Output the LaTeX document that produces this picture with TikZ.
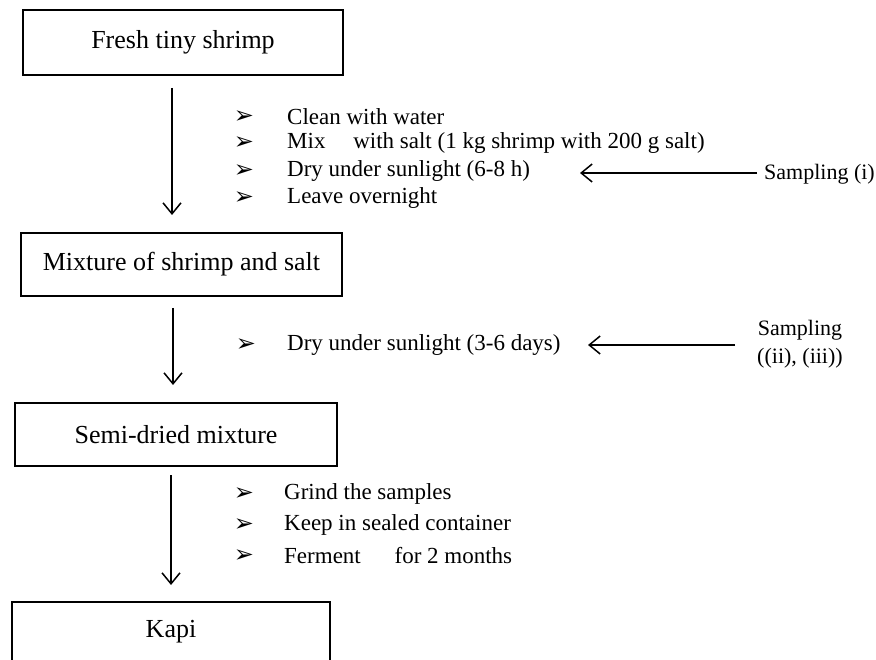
\documentclass[tikz,border=0pt]{standalone}
\usepackage{fontspec}
\setmainfont{Liberation Serif}
\newfontfamily\dingfont{DejaVu Sans}
\usetikzlibrary{arrows.meta}
\tikzset{
	stagebox/.style={draw,line width=1.5pt,inner sep=0pt,font=\fontsize{26}{30}\selectfont},
	itemtext/.style={anchor=west,inner sep=0pt,font=\fontsize{23}{27}\selectfont},
	bulletmark/.style={inner sep=0pt,font=\dingfont\fontsize{24}{26}\selectfont},
	flowarrow/.style={line width=1.5pt,-{Straight Barb[length=11pt,width=18pt,line width=1.5pt]}}
}
\begin{document}
\begin{tikzpicture}[x=1pt,y=-1pt]
			\useasboundingbox (0,0) rectangle (876,660);
			\node[stagebox,minimum width=320pt,minimum height=65pt] (fresh) at (183,42.5) {Fresh tiny shrimp};
			\node[stagebox,minimum width=321pt,minimum height=63pt] (mixture) at (181.5,264.5) {Mixture of shrimp and salt};
			\node[stagebox,minimum width=322pt,minimum height=63pt] (semi) at (176,434.5) {Semi-dried mixture};
			\node[inner sep=0pt,minimum width=318pt,minimum height=60pt,font=\fontsize{26}{30}\selectfont] (kapi) at (171,632) {Kapi};
			\draw[line width=1.5pt] (kapi.south west) |- (kapi.north east) -- (kapi.south east);
			\coordinate (a1s) at (172,88);
			\coordinate (a1e) at (172,215);
			\coordinate (a2s) at (173,308);
			\coordinate (a2e) at (173,385);
			\coordinate (a3s) at (171,475);
			\coordinate (a3e) at (171,585);
			\draw[flowarrow] (a1s) -- (a1e);
			\draw[flowarrow] (a2s) -- (a2e);
			\draw[flowarrow] (a3s) -- (a3e);
			\node[bulletmark] (m1) at (244,117) {➢};
			\node[bulletmark] (m2) at (244,143) {➢};
			\node[bulletmark] (m3) at (244,171) {➢};
			\node[bulletmark] (m4) at (244,198) {➢};
			\node[itemtext] (t1) at (287,117) {Clean with water};
			\node[itemtext] (t2) at (287,143) {Mix\hspace{22pt} with salt (1 kg shrimp with 200 g salt)};
			\node[itemtext] (t3) at (287,171) {Dry under sunlight (6-8 h)};
			\node[itemtext] (t4) at (287,198) {Leave overnight};
			\node[itemtext,font=\fontsize{22}{26}\selectfont] (s1) at (764,174) {Sampling (i)};
			\coordinate (g1) at (757,173);
			\coordinate (h1) at (580,173);
			\draw[flowarrow] (g1) -- (h1);
			\node[bulletmark] (m5) at (246,345) {➢};
			\node[itemtext] (t5) at (287,345) {Dry under sunlight (3-6 days)};
			\node[align=center,inner sep=0pt,font=\fontsize{22}{28}\selectfont] (s2) at (800,344) {Sampling\\((ii), (iii))};
			\coordinate (g2) at (735,345);
			\coordinate (h2) at (588,345);
			\draw[flowarrow] (g2) -- (h2);
			\node[bulletmark] (m6) at (244,494) {➢};
			\node[bulletmark] (m7) at (244,525) {➢};
			\node[bulletmark] (m8) at (244,556) {➢};
			\node[itemtext] (t6) at (284,494) {Grind the samples};
			\node[itemtext] (t7) at (284,525) {Keep in sealed container};
			\node[itemtext] (t8) at (284,556) {Ferment\hspace{28pt} for 2 months};
\end{tikzpicture}
\end{document}
